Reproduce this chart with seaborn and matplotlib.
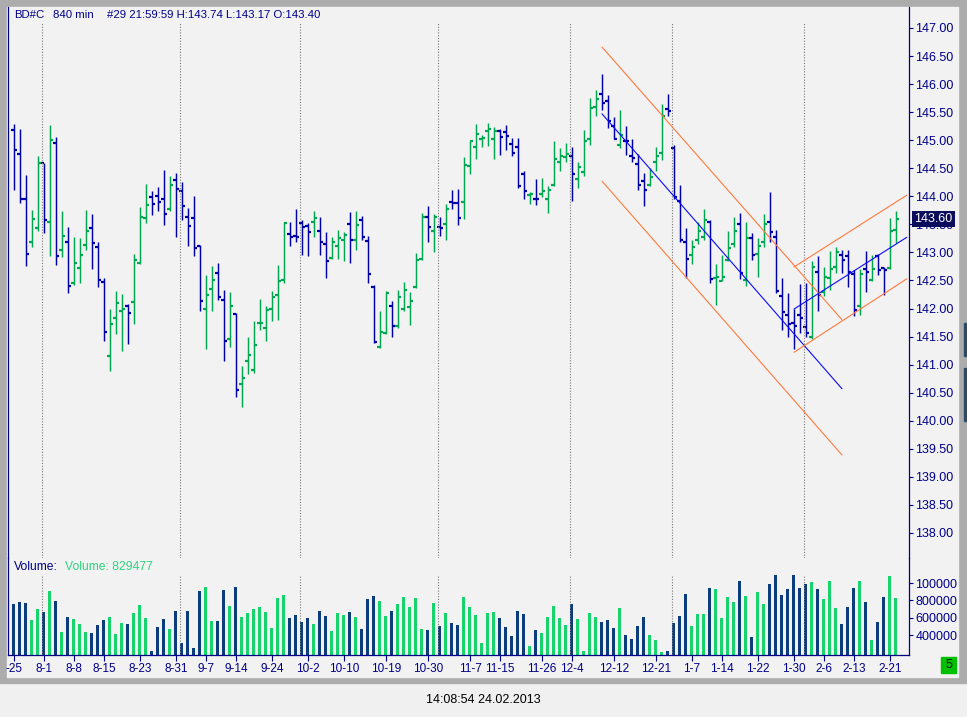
import numpy as np
import pandas as pd
import matplotlib.pyplot as plt
import seaborn as sns
from matplotlib.patches import Rectangle
from matplotlib.transforms import blended_transform_factory

# OHLC values of the 148 bars (840 min)
opens = [145.19, 144.75, 143.95, 143.18, 143.43, 144.59, 143.54, 144.95, 143.04, 143.18,
         142.45, 142.72, 143.13, 143.43, 143.09, 142.47, 141.15, 141.83, 141.95, 142.04,
         142.11, 142.82, 143.61, 143.98, 144.00, 143.96, 143.77, 144.29, 144.10, 143.64,
         143.61, 143.11, 141.99, 142.34, 142.63, 142.15, 141.45, 141.90, 140.65, 141.06,
         140.90, 141.74, 141.65, 142.00, 142.24, 142.50, 143.32, 143.29, 143.52, 143.47,
         143.55, 143.39, 143.15, 142.90, 143.11, 143.22, 143.50, 143.23, 143.57, 143.20,
         142.38, 141.31, 141.56, 142.04, 141.68, 142.00, 142.02, 142.38, 142.88, 143.64,
         143.39, 143.45, 143.50, 143.89, 143.88, 143.89, 144.54, 144.87, 145.02, 145.16,
         145.02, 145.16, 145.14, 144.93, 144.87, 144.39, 144.02, 143.96, 144.05, 143.95,
         144.21, 144.62, 144.70, 144.72, 144.30, 144.43, 145.03, 145.59, 145.82, 145.69,
         145.25, 144.91, 144.98, 144.72, 144.58, 144.27, 144.20, 144.61, 144.78, 145.56,
         144.86, 143.91, 143.19, 142.95, 143.22, 143.27, 143.54, 142.55, 142.49, 142.86,
         143.15, 143.50, 142.50, 143.25, 142.97, 143.18, 143.55, 143.27, 142.22, 141.88,
         141.75, 141.88, 141.67, 141.49, 142.65, 142.29, 142.54, 142.74, 142.95, 142.93,
         142.61, 142.04, 142.70, 142.50, 142.94, 142.72, 142.72, 143.40]
highs = [145.28, 145.20, 144.38, 143.76, 144.72, 144.59, 145.27, 145.06, 143.74, 143.45,
         143.28, 143.26, 143.76, 143.69, 143.19, 142.55, 141.99, 142.31, 142.26, 142.08,
         142.97, 143.81, 144.22, 144.10, 144.17, 144.47, 144.36, 144.42, 144.26, 143.79,
         144.01, 143.13, 142.60, 142.76, 142.81, 142.33, 142.30, 141.92, 140.98, 141.49,
         141.78, 142.17, 142.05, 142.31, 142.78, 143.55, 143.54, 143.77, 143.57, 143.52,
         143.74, 143.63, 143.36, 143.28, 143.40, 143.36, 143.72, 143.74, 143.65, 143.29,
         142.42, 141.96, 142.31, 142.14, 142.33, 142.47, 142.30, 142.99, 143.70, 143.83,
         143.69, 143.64, 143.86, 144.11, 144.13, 144.70, 144.99, 145.29, 145.09, 145.31,
         145.24, 145.20, 145.27, 145.04, 145.04, 144.45, 144.08, 144.31, 144.32, 144.18,
         144.99, 144.86, 144.95, 144.88, 144.61, 145.19, 145.75, 145.90, 146.18, 145.81,
         145.41, 145.54, 145.25, 145.02, 144.75, 144.42, 144.51, 144.87, 145.64, 145.82,
         144.92, 144.20, 143.43, 143.22, 143.54, 143.77, 143.57, 142.79, 142.95, 143.39,
         143.64, 143.70, 143.55, 143.34, 143.25, 143.68, 144.08, 143.40, 142.54, 142.27,
         141.99, 142.44, 142.46, 142.84, 142.94, 142.74, 143.03, 143.10, 143.04, 143.04,
         142.69, 142.70, 143.03, 142.95, 142.98, 142.74, 143.61, 143.74]
lows = [144.11, 143.88, 142.75, 143.09, 143.39, 143.34, 142.94, 142.78, 142.91, 142.27,
        142.42, 142.46, 143.05, 142.71, 142.39, 141.43, 140.88, 141.55, 141.25, 141.37,
        141.73, 142.80, 143.53, 143.66, 143.73, 143.49, 143.73, 143.28, 143.58, 143.12,
        142.93, 141.96, 141.27, 141.96, 142.16, 141.07, 141.32, 140.43, 140.25, 140.84,
        140.86, 141.61, 141.43, 141.78, 141.80, 142.46, 143.12, 143.19, 142.96, 142.94,
        143.28, 142.96, 142.55, 142.88, 142.89, 142.85, 142.82, 143.05, 143.23, 142.46,
        141.38, 141.29, 141.54, 141.50, 141.66, 141.96, 141.71, 142.36, 142.86, 143.19,
        143.01, 143.30, 143.23, 143.78, 143.48, 143.60, 144.40, 144.67, 144.87, 144.89,
        144.67, 144.74, 144.83, 144.71, 144.15, 143.96, 143.87, 143.85, 143.98, 143.70,
        144.19, 144.46, 144.61, 143.91, 144.15, 144.37, 144.91, 145.43, 145.54, 145.21,
        145.02, 144.86, 144.74, 144.62, 144.12, 143.82, 144.19, 144.46, 144.64, 145.44,
        143.96, 143.19, 142.54, 142.80, 143.15, 143.23, 142.45, 142.06, 142.49, 142.84,
        143.09, 142.52, 142.40, 142.86, 142.56, 143.09, 143.19, 142.27, 141.62, 141.50,
        141.27, 141.56, 141.50, 141.45, 141.96, 142.23, 142.33, 142.63, 142.64, 142.38,
        141.86, 141.89, 142.30, 142.49, 142.60, 142.25, 142.70, 143.17]
closes = [144.82, 143.96, 142.98, 143.59, 144.59, 143.57, 145.00, 142.93, 143.29, 142.41,
          142.81, 142.95, 143.38, 143.16, 142.50, 141.58, 141.72, 142.09, 141.99, 141.92,
          142.86, 143.63, 143.84, 143.86, 143.89, 143.68, 144.20, 144.13, 143.82, 143.47,
          143.07, 142.13, 142.24, 142.50, 142.20, 141.42, 142.04, 140.54, 140.76, 141.17,
          141.35, 141.75, 141.97, 142.20, 142.49, 143.52, 143.27, 143.27, 143.45, 143.36,
          143.61, 143.18, 142.84, 143.18, 143.25, 143.31, 143.23, 143.48, 143.27, 142.61,
          141.40, 141.59, 142.27, 141.68, 142.20, 142.33, 142.13, 142.86, 143.63, 143.45,
          143.63, 143.43, 143.77, 143.88, 143.61, 144.56, 144.98, 145.11, 145.04, 145.20,
          145.16, 145.05, 145.07, 144.77, 144.18, 144.09, 144.05, 143.95, 144.09, 144.11,
          144.66, 144.72, 144.75, 144.39, 144.52, 144.98, 145.57, 145.73, 145.66, 145.34,
          145.03, 145.09, 144.98, 144.68, 144.20, 144.11, 144.34, 144.71, 145.43, 145.52,
          143.98, 143.22, 142.88, 143.09, 143.39, 143.57, 142.52, 142.57, 142.57, 143.07,
          143.38, 142.63, 143.25, 142.95, 143.11, 143.50, 143.36, 142.31, 141.93, 141.72,
          141.68, 141.83, 141.56, 142.74, 142.25, 142.56, 142.70, 143.00, 142.86, 142.66,
          141.97, 142.62, 142.65, 142.70, 142.68, 142.68, 143.39, 143.60]
volumes = [764000, 783000, 775000, 576000, 703000, 668000, 909000, 794000, 442000, 611000,
           588000, 530000, 442000, 427000, 519000, 576000, 611000, 419000, 542000, 530000,
           657000, 749000, 599000, 220000, 496000, 588000, 473000, 680000, 312000, 680000,
           254000, 909000, 955000, 565000, 565000, 921000, 737000, 955000, 611000, 657000,
           703000, 729000, 668000, 484000, 829000, 863000, 599000, 634000, 553000, 599000,
           530000, 680000, 622000, 450000, 657000, 634000, 668000, 611000, 473000, 817000,
           852000, 794000, 622000, 680000, 760000, 840000, 726000, 829000, 473000, 461000,
           771000, 507000, 657000, 542000, 519000, 840000, 726000, 634000, 312000, 657000,
           668000, 599000, 496000, 392000, 680000, 645000, 277000, 461000, 427000, 611000,
           737000, 599000, 519000, 760000, 588000, 220000, 657000, 611000, 553000, 576000,
           484000, 714000, 404000, 358000, 507000, 611000, 404000, 346000, 212000, 224000,
           542000, 622000, 875000, 507000, 645000, 645000, 944000, 932000, 599000, 840000,
           783000, 1024000, 852000, 381000, 898000, 760000, 990000, 1093000, 863000, 932000,
           1093000, 944000, 990000, 1013000, 932000, 817000, 1024000, 714000, 530000, 726000,
           944000, 1024000, 783000, 346000, 553000, 840000, 1082000, 829477]

tick_pos = [1, 6, 11, 16, 22, 28, 33, 38, 44, 50, 56, 63, 70, 77, 82, 89, 94, 101,
            108, 114, 119, 125, 131, 136, 141, 147]
tick_labels = ['-25', '8-1', '8-8', '8-15', '8-23', '8-31', '9-7', '9-14', '9-24',
               '10-2', '10-10', '10-19', '10-30', '11-7', '11-15', '11-26', '12-4',
               '12-12', '12-21', '1-7', '1-14', '1-22', '1-30', '2-6', '2-13', '2-21']
month_bars = [6, 29, 49, 72, 94, 111, 133]

price_ticks = np.arange(138.0, 147.01, 0.5)
vol_ticks = [400000, 600000, 800000, 1000000]
vol_tick_labels = ['400000', '600000', '800000', '100000']

# drawn trend channels: (bar from, bar to), (price from, price to)
down_bars = [99.0, 139.0]
down_mid = [145.47, 140.57]
down_upper = [146.66, 141.80]
down_lower = [144.27, 139.39]
up_bars = [131.0, 149.8]
up_mid = [141.99, 143.27]
up_upper = [142.74, 144.02]
up_lower = [141.22, 142.53]

navy = '#000088'
bar_green, bar_blue = '#00a650', '#0000a8'
vol_green, vol_blue = '#16d36c', '#0b3c7c'
chan_orange, chan_blue = '#ff7a3c', '#0a0aff'

W, H = 967, 717


def box(x0, y0, x1, y1):
    return [x0 / W, 1 - y1 / H, (x1 - x0) / W, (y1 - y0) / H]


sns.set_theme(style='white')
plt.rcParams['font.family'] = ['Liberation Sans', 'DejaVu Sans']

fig = plt.figure(figsize=(W / 100, H / 100), dpi=100, facecolor='#f0f0f0')
fig.add_artist(Rectangle((0, 1 - 683 / H), 1, 683 / H, transform=fig.transFigure,
                         color='#acacac', zorder=-2))
fig.add_artist(Rectangle((7 / W, 1 - 677 / H), 951 / W, 670 / H, transform=fig.transFigure,
                         color='#f2f2f2', zorder=-1))
for y0, y1 in [(323, 356), (368, 421)]:
    fig.add_artist(Rectangle((964 / W, 1 - y1 / H), 3 / W, (y1 - y0) / H,
                             transform=fig.transFigure, color='#2a4a66', zorder=-1))

ax_p = fig.add_axes(box(8, 7, 909, 558))
ax_v = fig.add_axes(box(8, 558, 909, 655))
for ax in (ax_p, ax_v):
    ax.patch.set_visible(False)

idx = np.arange(1, len(opens) + 1)
o, h, l, c = map(np.array, (opens, highs, lows, closes))
up = c > o
colors = np.where(up, bar_green, bar_blue)

p_lo, p_hi = 137.554, 147.374
x_lo, x_hi = 0.0, 150.17

# price bars
ax_p.vlines(idx, l, h, colors=colors, lw=1.05)
ax_p.hlines(o, idx - 0.42, idx - 0.08, colors=colors, lw=1.6, capstyle='butt')
ax_p.hlines(c, idx + 0.08, idx + 0.42, colors=colors, lw=1.6, capstyle='butt')

# month separators
sep = np.array(month_bars) - 0.3
ax_p.vlines(sep, p_lo, 147.107, colors='#7a7a7a', linestyles=(0, (1, 1.5)), lw=0.8)

# channels
for ys, col in [(down_upper, chan_orange), (down_lower, chan_orange), (down_mid, chan_blue)]:
    sns.lineplot(x=down_bars, y=ys, color=col, lw=0.8, ax=ax_p)
for ys, col in [(up_upper, chan_orange), (up_lower, chan_orange), (up_mid, chan_blue)]:
    sns.lineplot(x=up_bars, y=ys, color=col, lw=0.8, ax=ax_p)

ax_p.set_xlim(x_lo, x_hi)
ax_p.set_ylim(p_lo, p_hi)
ax_p.set_xticks([])
ax_p.yaxis.tick_right()
ax_p.set_yticks(price_ticks, [f'{v:.2f}' for v in price_ticks])
ax_p.tick_params(axis='y', direction='out', length=3, width=0.8, color=navy,
                 labelcolor=navy, labelsize=9, pad=1.5, right=True)
ax_p.set_xlabel('')
ax_p.set_ylabel('')

# volume
vol_df = pd.DataFrame({'bar': idx, 'volume': volumes,
                       'dir': np.where(up, 'up', 'down')})
sns.barplot(data=vol_df, x='bar', y='volume', hue='dir',
            palette={'up': vol_green, 'down': vol_blue}, native_scale=True,
            dodge=False, width=0.5, errorbar=None, saturation=1, legend=False, ax=ax_v)
# keep every bar 3 px wide around its bar position
for patch in ax_v.patches:
    centre = patch.get_x() + patch.get_width() / 2
    patch.set_x(round(centre) - 0.25)
    patch.set_width(0.5)
    patch.set_linewidth(0)
v_lo, v_hi = 173460, 1288380
ax_v.vlines(sep, v_lo, 1093000, colors='#7a7a7a', linestyles=(0, (1, 1.5)), lw=0.8)
ax_v.set_xlim(x_lo, x_hi)
ax_v.set_ylim(v_lo, v_hi)
ax_v.yaxis.tick_right()
ax_v.set_yticks(vol_ticks, vol_tick_labels)
ax_v.set_xticks(tick_pos, tick_labels)
ax_v.tick_params(axis='y', direction='out', length=3, width=0.8, color=navy,
                 labelcolor=navy, labelsize=9, pad=1.5, right=True, left=False)
ax_v.tick_params(axis='x', direction='out', length=4, width=0.8, color=navy,
                 labelcolor=navy, labelsize=8.5, pad=1.5, bottom=True)
ax_v.set_xlabel('')
ax_v.set_ylabel('')

for ax in (ax_p, ax_v):
    ax.spines['top'].set_visible(False)
    for s in ('left', 'right', 'bottom'):
        ax.spines[s].set_color(navy)
        ax.spines[s].set_linewidth(0.9)
ax_p.spines['bottom'].set_visible(False)

# last price marker
tr = blended_transform_factory(ax_p.transAxes, ax_p.transData)
ax_p.text((914 - 8) / 901, closes[-1], f'{closes[-1]:.2f}', transform=tr, ha='left',
          va='center', color='white', fontsize=9, clip_on=False,
          bbox=dict(boxstyle='square,pad=0.18', fc='#0c0c5c', ec='none'))

# header and labels
fig.text(14 / W, 1 - 15 / H, 'BD#C', color=navy, fontsize=8.2, va='center')
fig.text(53 / W, 1 - 15 / H, '840 min', color=navy, fontsize=8.2, va='center')
fig.text(107 / W, 1 - 15 / H, '#29 21:59:59 H:143.74 L:143.17 O:143.40',
         color=navy, fontsize=8.2, va='center')
fig.text(14 / W, 1 - 567 / H, 'Volume:', color=navy, fontsize=8.7, va='center')
fig.text(65 / W, 1 - 567 / H, f'Volume: {volumes[-1]}', color='#2ed47e',
         fontsize=8.7, va='center')

fig.add_artist(Rectangle((941 / W, 1 - 673 / H), 15 / W, 16 / H, transform=fig.transFigure,
                         color='#00c000'))
fig.text(948.5 / W, 1 - 665 / H, '5', ha='center', va='center', fontsize=9, color='#101010')
fig.text(483 / W, 1 - 700 / H, '14:08:54 24.02.2013', ha='center', va='center',
         fontsize=9, color='black')

fig.savefig('out.png', dpi=100, facecolor=fig.get_facecolor())
